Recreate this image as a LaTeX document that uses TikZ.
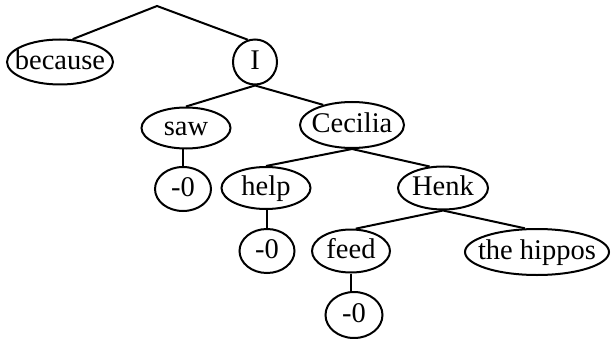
\documentclass[tikz,border=0pt]{standalone}
\usepackage{fontspec}
\setmainfont{Liberation Serif}
\usetikzlibrary{shapes.geometric}
\newcommand\tx[1]{\smash{\makebox[0pt]{\raisebox{-0.28em}{#1}}}}
\tikzset{
  el/.style={ellipse, draw, line width=2pt, inner sep=0pt, font=\fontsize{28.5}{30}\selectfont},
  edge/.style={line width=2pt}
}
\begin{document}
\begin{tikzpicture}[x=1pt,y=-1pt]
\useasboundingbox (0,0) rectangle (612,339);
\coordinate (root) at (157,6);
\node[el, minimum width=106pt, minimum height=45pt] (because) at (60,62) {\tx{because}};
\node[el, minimum width=44pt, minimum height=45pt] (I) at (255,62) {\tx{I}};
\node[el, minimum width=89pt, minimum height=41pt] (saw) at (186,128) {\tx{saw}};
\node[el, minimum width=104pt, minimum height=46pt] (Cecilia) at (352,125) {\tx{Cecilia}};
\node[el, minimum width=56pt, minimum height=44pt] (z1) at (183,189) {\tx{-0}};
\node[el, minimum width=89pt, minimum height=42pt] (help) at (266,188) {\tx{help}};
\node[el, minimum width=90pt, minimum height=43pt] (Henk) at (443,188) {\tx{Henk}};
\node[el, minimum width=55pt, minimum height=44pt] (z2) at (267,251) {\tx{-0}};
\node[el, minimum width=78pt, minimum height=43pt] (feed) at (351,251) {\tx{feed}};
\node[el, minimum width=144pt, minimum height=46pt] (hippos) at (537,252) {\tx{the hippos}};
\node[el, minimum width=57pt, minimum height=46pt] (z3) at (354,315) {\tx{-0}};
\draw[edge] (because.61) -- (root) -- (I.108);
\draw[edge] (saw.north) -- (I.south) -- (Cecilia.145);
\draw[edge] (z1.north) -- (z1.north |- saw.south);
\draw[edge] (help.north) -- (Cecilia.south) -- (Henk.122);
\draw[edge] (z2.north) -- (z2.north |- help.south);
\draw[edge] (feed.78) -- (Henk.south) -- (hippos.117);
\draw[edge] (feed.south) -- (feed.south |- z3.north);
\end{tikzpicture}
\end{document}
